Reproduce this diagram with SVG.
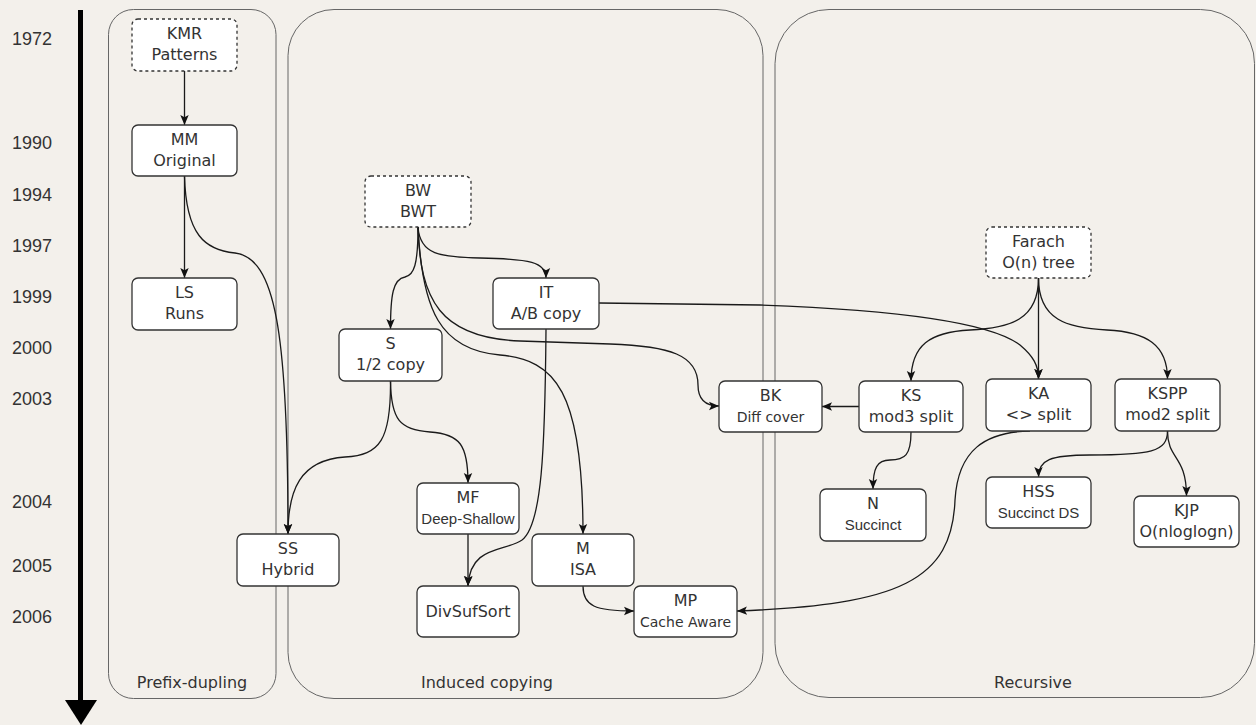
<svg xmlns="http://www.w3.org/2000/svg" width="1256" height="725" viewBox="0 0 1256 725">
<defs>
<marker id="arr" viewBox="0 0 10 10" refX="10" refY="5" markerWidth="10" markerHeight="10" markerUnits="userSpaceOnUse" orient="auto">
<path d="M0,0.8 L10,5 L0,9.2 L2.2,5 z" fill="#111"/>
</marker>
<style>
.cont{fill:none;stroke:#666;stroke-width:1}
.clab{font-family:"DejaVu Sans",sans-serif;font-size:16px;fill:#333;text-anchor:middle}
.year{font-family:"Liberation Sans",Arial,sans-serif;font-size:18px;fill:#333}
.box{fill:#fff;stroke:#333;stroke-width:1.3}
.dash{stroke-dasharray:3 3}
.t{font-family:"DejaVu Sans",sans-serif;font-size:16px;fill:#333;text-anchor:middle}
.s14{font-size:14px}
.ar{font-family:"Liberation Sans",Arial,sans-serif;font-size:15px}
.edge{fill:none;stroke:#1a1a1a;stroke-width:1.3;marker-end:url(#arr)}
</style>
</defs>
<rect x="0" y="0" width="1256" height="725" fill="#f3f0eb"/>

<g id="timeline">
<line x1="80.5" y1="10" x2="80.5" y2="702" stroke="#000" stroke-width="5"/>
<polygon points="65,700 97,700 81,725" fill="#000"/>
<text class="year" x="12" y="45">1972</text>
<text class="year" x="12" y="149">1990</text>
<text class="year" x="12" y="201">1994</text>
<text class="year" x="12" y="252">1997</text>
<text class="year" x="12" y="303">1999</text>
<text class="year" x="12" y="354">2000</text>
<text class="year" x="12" y="405">2003</text>
<text class="year" x="12" y="508">2004</text>
<text class="year" x="12" y="572">2005</text>
<text class="year" x="12" y="623">2006</text>
</g>

<g id="containers">
<rect class="cont" x="108.5" y="9.5" width="167.5" height="689" rx="25" ry="25"/>
<text class="clab" x="192" y="688">Prefix-dupling</text>
<rect class="cont" x="288" y="9.5" width="475" height="689" rx="46" ry="46"/>
<text class="clab" x="487" y="688">Induced copying</text>
<rect class="cont" x="775" y="9.5" width="479.5" height="688" rx="54" ry="54"/>
<text class="clab" x="1033" y="688">Recursive</text>
</g>

<g id="connectors">
<path class="edge" d="M184.5,71 L184.5,125"/>
<path class="edge" d="M184.5,176 L184.5,278"/>
<path class="edge" d="M184.5,176 C186,235 205,250 235,253 C275,258 288,330 288,534"/>
<path class="edge" d="M390.5,381 C391,440 380,455 345,457 C300,460 288,490 288,534"/>
<path class="edge" d="M418,227 C418,265 414,275 405,277 C393,279 390.5,295 390.5,329"/>
<path class="edge" d="M418,227 C420,255 440,257 480,258 C530,259 546,262 546,278"/>
<path class="edge" d="M418,227 C420,300 440,338 520,341 L610,344 C670,346 698,355 698,385 C698,400 706,406 719,406"/>
<path class="edge" d="M418,227 C422,310 440,350 500,355 C555,360 583,390 583,534"/>
<path class="edge" d="M546,329 C545,450 542,525 522,540 C505,552 470,545 468,586"/>
<path class="edge" d="M468,534 L468,586"/>
<path class="edge" d="M390.5,381 C391,420 400,430 430,432 C460,434 468,445 468,483"/>
<path class="edge" d="M583,586 C583,606 595,611 634,611"/>
<path class="edge" d="M1030,431 C985,432 958,450 955,500 C952,580 900,605 737,611"/>
<path class="edge" d="M599,303 L760,305 C900,310 990,322 1020,345 C1033,356 1038.5,365 1038.5,379"/>
<path class="edge" d="M1038.5,278 C1038.5,320 1010,328 970,330 C930,332 911,345 911,381"/>
<path class="edge" d="M1038.5,278 L1038.5,379"/>
<path class="edge" d="M1038.5,278 C1038.5,320 1067,328 1107,330 C1147,332 1167.5,345 1167.5,379"/>
<path class="edge" d="M859,406.5 L822,406.5"/>
<path class="edge" d="M911,432 C911,455 905,460 890,460 C877,460 873,468 873,489"/>
<path class="edge" d="M1167.5,431 C1167.5,452 1150,455 1090,455 C1050,455 1038.5,460 1038.5,477"/>
<path class="edge" d="M1167.5,431 C1167.5,460 1186.5,455 1186.5,496"/>
</g>

<g id="node-KMR"><rect class="box dash" x="132" y="19" width="105" height="52" rx="6"/><text class="t" x="184.5" y="39">KMR</text><text class="t" x="184.5" y="60">Patterns</text></g>
<g id="node-MM"><rect class="box" x="132" y="125" width="105" height="51" rx="6"/><text class="t" x="184.5" y="145">MM</text><text class="t" x="184.5" y="166">Original</text></g>
<g id="node-LS"><rect class="box" x="132" y="278" width="105" height="52" rx="6"/><text class="t" x="184.5" y="298">LS</text><text class="t" x="184.5" y="319">Runs</text></g>
<g id="node-SS"><rect class="box" x="237" y="534" width="102" height="52" rx="6"/><text class="t" x="288" y="554">SS</text><text class="t" x="288" y="575">Hybrid</text></g>
<g id="node-BW"><rect class="box dash" x="365" y="176" width="106" height="51" rx="6"/><text class="t" x="418" y="196">BW</text><text class="t" x="418" y="217">BWT</text></g>
<g id="node-IT"><rect class="box" x="493" y="278" width="106" height="51" rx="6"/><text class="t" x="546" y="298">IT</text><text class="t" x="546" y="319">A/B copy</text></g>
<g id="node-S"><rect class="box" x="339" y="329" width="103" height="52" rx="6"/><text class="t" x="390.5" y="349">S</text><text class="t" x="390.5" y="370">1/2 copy</text></g>
<g id="node-MF"><rect class="box" x="417" y="483" width="102" height="51" rx="6"/><text class="t" x="468" y="503">MF</text><text class="t ar" x="468" y="524">Deep-Shallow</text></g>
<g id="node-DivSufSort"><rect class="box" x="417" y="586" width="102" height="51" rx="6"/><text class="t" x="468" y="617">DivSufSort</text></g>
<g id="node-M"><rect class="box" x="532" y="534" width="102" height="52" rx="6"/><text class="t" x="583" y="554">M</text><text class="t" x="583" y="575">ISA</text></g>
<g id="node-MP"><rect class="box" x="634" y="586" width="103" height="51" rx="6"/><text class="t" x="685.5" y="606">MP</text><text class="t s14" x="685.5" y="627">Cache Aware</text></g>
<g id="node-BK"><rect class="box" x="719" y="381" width="103" height="51" rx="6"/><text class="t" x="770.5" y="401">BK</text><text class="t s14" x="770.5" y="422">Diff cover</text></g>
<g id="node-KS"><rect class="box" x="859" y="381" width="104" height="51" rx="6"/><text class="t" x="911" y="401">KS</text><text class="t" x="911" y="422">mod3 split</text></g>
<g id="node-Farach"><rect class="box dash" x="986" y="227" width="105" height="51" rx="6"/><text class="t" x="1038.5" y="247">Farach</text><text class="t" x="1038.5" y="268">O(n) tree</text></g>
<g id="node-KA"><rect class="box" x="986" y="379" width="105" height="52" rx="6"/><text class="t" x="1038.5" y="399">KA</text><text class="t" x="1038.5" y="420">&lt;&gt; split</text></g>
<g id="node-KSPP"><rect class="box" x="1115" y="379" width="105" height="52" rx="6"/><text class="t" x="1167.5" y="399">KSPP</text><text class="t" x="1167.5" y="420">mod2 split</text></g>
<g id="node-N"><rect class="box" x="820" y="489" width="106" height="52" rx="6"/><text class="t" x="873" y="509">N</text><text class="t ar" x="873" y="530">Succinct</text></g>
<g id="node-HSS"><rect class="box" x="986" y="477" width="105" height="51" rx="6"/><text class="t" x="1038.5" y="497">HSS</text><text class="t ar" x="1038.5" y="518">Succinct DS</text></g>
<g id="node-KJP"><rect class="box" x="1134" y="496" width="105" height="51" rx="6"/><text class="t" x="1186.5" y="516">KJP</text><text class="t" x="1186.5" y="537">O(nloglogn)</text></g>
</svg>
